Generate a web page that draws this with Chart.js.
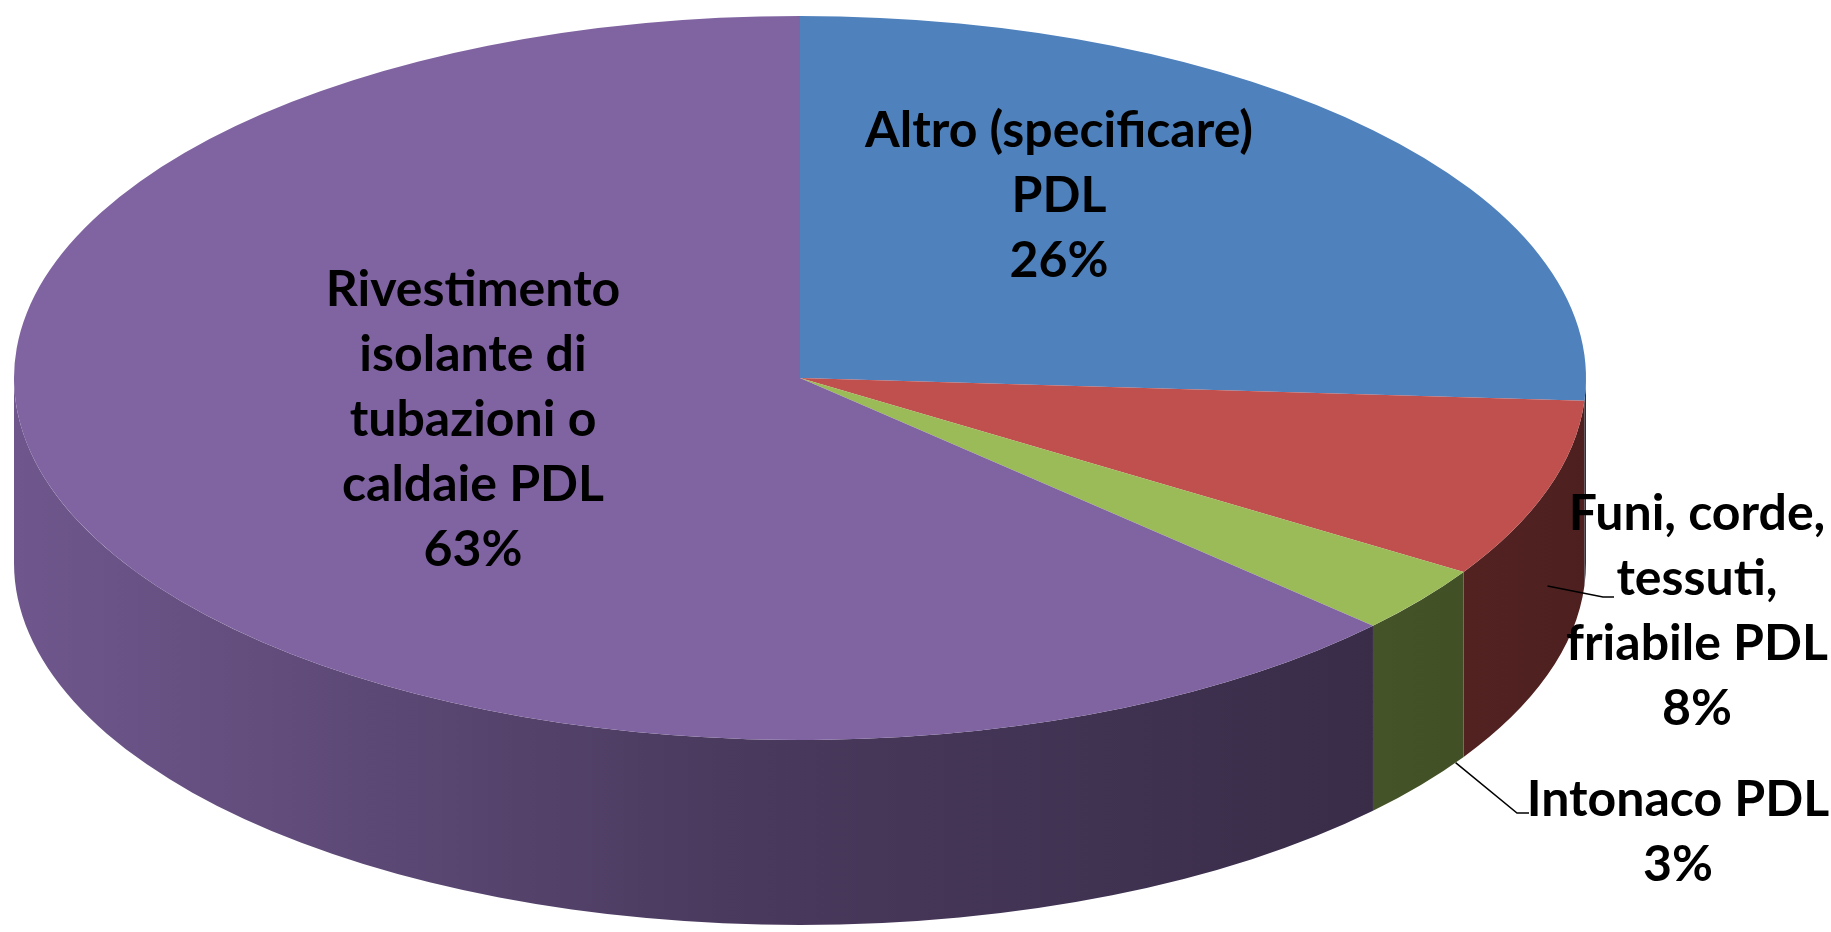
<!DOCTYPE html>
<html>
<head>
<meta charset="utf-8">
<script src="https://cdn.jsdelivr.net/npm/chart.js@4.4.0/dist/chart.umd.min.js"></script>
<style>
  html, body { margin: 0; padding: 0; background: #fff; overflow: hidden; }
</style>
</head>
<body>
<canvas id="chart" width="1831" height="932"></canvas>
<script>
// dati del grafico
const categories = [
  ["Altro (specificare)", "PDL"],
  ["Funi, corde,", "tessuti,", "friabile PDL"],
  ["Intonaco PDL"],
  ["Rivestimento", "isolante di", "tubazioni o", "caldaie PDL"],
];
const values = [26, 8, 3, 63];
const colors = ["#4F81BD", "#C0504D", "#9BBB59", "#8064A2"];

// geometria della torta "3D" (ellisse + spessore)
const geo = { cx: 800, cy: 378, rx: 786, ry: 362, depth: 185 };

// dove mettere le etichette (centro della prima riga)
// leader: t = posizione lungo l'arco, k = altezza sul bordo
const labelLayout = [
  { x: 1059, y: 131 },
  { x: 1697, y: 514, leader: { t: 0.5, k: 0.52, elbow: [1603, 597], end: [1614, 597] } },
  { x: 1678, y: 800, leader: { t: 0.9, k: 1, elbow: [1517, 813], end: [1529, 813] } },
  { x: 473, y: 290 },
];
const lineHeight = 65;
const labelFont = "bold 50px Lato";

const total = values.reduce((a, b) => a + b, 0);
const pct = (v) => `${Math.round((v / total) * 100)}%`;

const shade = (hex, f) => {
  const n = parseInt(hex.slice(1), 16);
  const r = Math.round((n >> 16) * f);
  const g = Math.round(((n >> 8) & 255) * f);
  const b = Math.round((n & 255) * f);
  return `rgb(${r},${g},${b})`;
};

const pie3d = {
  id: "pie3d",
  beforeDatasetsDraw(chart) {
    const ctx = chart.ctx;
    const arcs = chart.getDatasetMeta(0).data;
    const { cx, cy, rx, ry, depth } = geo;

    //disegnare il bordo laterale (solo la parte davanti)
    arcs.forEach((arc, i) => {
      const a1 = Math.max(arc.startAngle, 0);
      const a2 = Math.min(arc.endAngle, Math.PI);
      if (a2 <= a1) return;
      const grad = ctx.createLinearGradient(cx - rx, 0, cx + rx, 0);
      grad.addColorStop(0, shade(colors[i], 0.87));
      grad.addColorStop(0.45, shade(colors[i], 0.58));
      grad.addColorStop(1, shade(colors[i], 0.4));
      ctx.beginPath();
      ctx.ellipse(cx, cy, rx, ry, 0, a1, a2);
      ctx.ellipse(cx, cy + depth, rx, ry, 0, a2, a1, true);
      ctx.closePath();
      ctx.fillStyle = grad;
      ctx.fill();
    });

    // schiacciare la torta in un'ellisse
    const a0 = arcs[0];
    const r = a0.outerRadius;
    ctx.save();
    ctx.translate(cx, cy);
    ctx.scale(rx / r, ry / r);
    ctx.translate(-a0.x, -a0.y);
  },
  afterDatasetsDraw(chart) {
    chart.ctx.restore();
  },
  afterDraw(chart) {
    const ctx = chart.ctx;
    const arcs = chart.getDatasetMeta(0).data;
    const { cx, cy, rx, ry, depth } = geo;

    // linee guida
    ctx.save();
    ctx.strokeStyle = "#000";
    ctx.lineWidth = 1.5;
    labelLayout.forEach((spot, i) => {
      if (!spot.leader) return;
      const arc = arcs[i];
      const a1 = Math.max(arc.startAngle, 0);
      const a2 = Math.min(arc.endAngle, Math.PI);
      const ang = a2 - (a2 - a1) * spot.leader.t;
      const px = cx + rx * Math.cos(ang);
      const py = cy + ry * Math.sin(ang) + depth * spot.leader.k;
      ctx.beginPath();
      ctx.moveTo(px, py);
      ctx.lineTo(...spot.leader.elbow);
      ctx.lineTo(...spot.leader.end);
      ctx.stroke();
    });

    // etichette
    ctx.font = labelFont;
    ctx.fillStyle = "#000";
    ctx.textAlign = "center";
    ctx.textBaseline = "middle";
    labelLayout.forEach((spot, i) => {
      const lines = [...categories[i], pct(values[i])];
      lines.forEach((line, k) => {
        ctx.fillText(line, spot.x, spot.y + k * lineHeight);
      });
    });
    ctx.restore();
  },
};

new Chart(document.querySelector("#chart"), {
  type: "pie",
  data: {
    labels: categories,
    datasets: [
      {
        data: values,
        backgroundColor: colors,
        borderWidth: 0,
        clip: false,
      },
    ],
  },
  options: {
    responsive: false,
    animation: false,
    events: [],
    layout: { padding: 0 },
    plugins: {
      legend: { display: false },
      tooltip: { enabled: false },
      title: { display: false },
    },
  },
  plugins: [pie3d],
});
</script>
</body>
</html>
